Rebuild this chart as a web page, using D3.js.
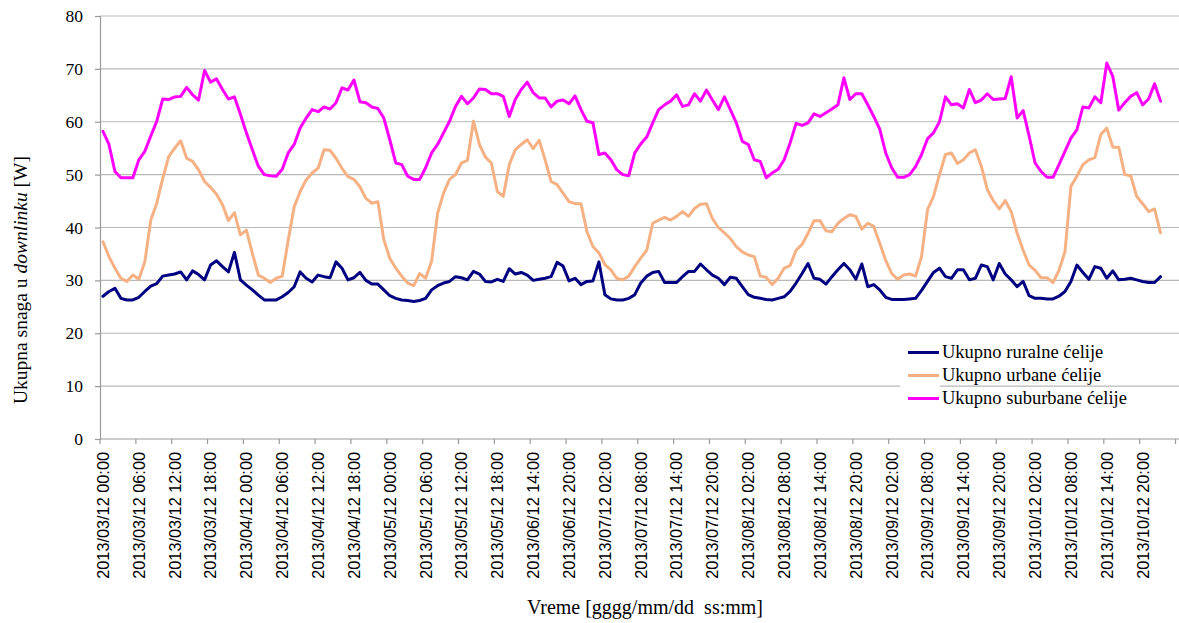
<!DOCTYPE html>
<html>
<head>
<meta charset="utf-8">
<script src="https://cdn.jsdelivr.net/npm/d3@7"></script>
<style>
  html, body { margin: 0; padding: 0; background: #fff; }
  svg { display: block; }
</style>
</head>
<body>
<svg id="chart" width="1179" height="623"></svg>
<script>
// ---------------- DATA ----------------
const seriesNames = ["Ukupno ruralne ćelije", "Ukupno urbane ćelije", "Ukupno suburbane ćelije"];

const rural = [
  27.0, 27.9, 28.5, 26.6, 26.3, 26.3, 26.8, 27.9, 28.9, 29.4, 30.8, 31.0, 31.2, 31.6, 30.1, 31.8, 31.1, 30.1, 32.9, 33.7,
  32.6, 31.6, 35.3, 30.1, 29.1, 28.2, 27.2, 26.3, 26.3, 26.3, 26.9, 27.7, 28.8, 31.6, 30.4, 29.7, 31.0, 30.7, 30.5, 33.5,
  32.3, 30.1, 30.5, 31.5, 30.0, 29.3, 29.3, 28.2, 27.1, 26.6, 26.3, 26.2, 26.0, 26.2, 26.6, 28.2, 29.0, 29.5, 29.8, 30.7,
  30.5, 30.1, 31.7, 31.2, 29.8, 29.7, 30.2, 29.8, 32.2, 31.2, 31.5, 31.0, 30.0, 30.2, 30.4, 30.7, 33.4, 32.7, 29.9, 30.4,
  29.2, 29.8, 29.9, 33.5, 27.3, 26.5, 26.3, 26.3, 26.6, 27.3, 29.5, 30.8, 31.5, 31.7, 29.6, 29.6, 29.6, 30.7, 31.7, 31.7,
  33.1, 32.0, 31.0, 30.4, 29.2, 30.6, 30.4, 28.8, 27.3, 26.8, 26.6, 26.4, 26.3, 26.6, 26.9, 27.9, 29.5, 31.3, 33.2, 30.4,
  30.2, 29.3, 30.7, 32.0, 33.2, 32.0, 30.2, 33.1, 28.8, 29.2, 28.2, 26.8, 26.4, 26.4, 26.4, 26.5, 26.6, 28.1, 29.8, 31.5,
  32.3, 30.7, 30.4, 32.0, 32.0, 30.1, 30.4, 32.9, 32.6, 30.1, 33.2, 31.2, 30.1, 28.8, 29.8, 27.1, 26.6, 26.6, 26.5, 26.5,
  27.0, 27.9, 29.8, 32.9, 31.5, 30.2, 32.6, 32.3, 30.4, 31.8, 30.1, 30.2, 30.4, 30.1, 29.8, 29.6, 29.6, 30.7
];

const urban = [
  37.3, 34.5, 32.3, 30.4, 29.8, 31.0, 30.2, 33.5, 41.4, 44.6, 49.3, 53.4, 55.0, 56.4, 53.1, 52.5, 50.9, 48.7, 47.6, 46.3,
  44.3, 41.3, 42.8, 38.6, 39.5, 35.1, 31.0, 30.4, 29.6, 30.4, 30.8, 37.6, 43.9, 46.8, 49.0, 50.3, 51.2, 54.7, 54.6, 53.1,
  51.2, 49.6, 49.1, 47.7, 45.5, 44.6, 44.9, 37.7, 34.2, 32.3, 30.8, 29.5, 29.0, 31.3, 30.4, 33.6, 42.7, 46.5, 49.1, 50.0,
  52.2, 52.7, 60.1, 55.7, 53.3, 52.2, 46.8, 45.9, 51.9, 54.7, 55.7, 56.6, 54.9, 56.5, 52.8, 48.7, 48.1, 46.5, 44.9, 44.5,
  44.5, 39.2, 36.4, 35.2, 33.0, 32.0, 30.4, 30.1, 30.8, 32.6, 34.2, 35.7, 40.8, 41.4, 41.9, 41.4, 42.1, 43.0, 42.1, 43.6,
  44.4, 44.5, 41.7, 40.0, 39.0, 37.9, 36.4, 35.4, 34.8, 34.5, 30.8, 30.6, 29.2, 30.4, 32.3, 32.8, 35.7, 36.8, 38.9, 41.3,
  41.3, 39.4, 39.2, 40.8, 41.7, 42.4, 42.1, 39.7, 40.8, 40.2, 37.0, 33.8, 31.3, 30.2, 31.0, 31.2, 30.8, 34.5, 43.4, 45.9,
  50.0, 53.8, 54.1, 52.1, 52.8, 54.1, 54.7, 51.6, 47.2, 45.1, 43.5, 45.1, 43.0, 38.9, 35.7, 32.9, 31.9, 30.5, 30.5, 29.6,
  31.9, 35.4, 47.8, 49.7, 51.9, 52.8, 53.2, 57.6, 58.8, 55.2, 55.2, 50.0, 49.8, 45.9, 44.5, 43.0, 43.5, 39.0
];

const suburban = [
  58.2, 55.7, 50.6, 49.4, 49.4, 49.4, 52.8, 54.4, 57.3, 60.1, 64.3, 64.2, 64.7, 64.8, 66.5, 65.1, 64.1, 69.7, 67.5, 68.1,
  66.1, 64.3, 64.7, 61.4, 57.9, 54.7, 51.6, 50.0, 49.8, 49.7, 51.0, 54.1, 55.7, 58.8, 60.7, 62.3, 61.9, 62.8, 62.4, 63.6,
  66.4, 66.0, 67.9, 63.8, 63.6, 62.8, 62.5, 60.7, 56.6, 52.2, 51.9, 49.7, 49.1, 49.1, 51.3, 54.1, 55.7, 57.9, 60.1, 62.9,
  64.8, 63.4, 64.5, 66.2, 66.1, 65.3, 65.3, 64.8, 61.0, 64.2, 66.1, 67.5, 65.5, 64.5, 64.5, 62.8, 63.9, 64.1, 63.4, 64.9,
  62.3, 60.1, 59.8, 53.8, 54.1, 52.8, 50.9, 50.0, 49.8, 54.1, 55.8, 57.1, 59.8, 62.3, 63.2, 63.9, 65.1, 62.9, 63.2, 65.3,
  63.9, 66.0, 64.1, 62.3, 64.7, 62.3, 59.8, 56.3, 55.7, 52.8, 52.5, 49.4, 50.3, 51.0, 52.8, 56.0, 59.7, 59.3, 59.8, 61.5,
  61.0, 61.7, 62.4, 63.2, 68.3, 64.2, 65.3, 65.3, 63.2, 61.0, 58.6, 54.1, 51.3, 49.5, 49.5, 50.0, 51.5, 53.8, 56.8, 57.9,
  60.0, 64.7, 63.2, 63.4, 62.6, 66.1, 63.6, 64.1, 65.3, 64.2, 64.3, 64.4, 68.5, 60.7, 62.1, 57.3, 52.2, 50.6, 49.5, 49.5,
  51.9, 54.4, 56.9, 58.5, 62.8, 62.6, 64.7, 63.6, 71.1, 68.6, 62.2, 63.6, 64.8, 65.5, 63.2, 64.3, 67.2, 63.9
];

// one label for every 6th category
const tickLabels = [
  "2013/03/12 00:00", "2013/03/12 06:00", "2013/03/12 12:00", "2013/03/12 18:00",
  "2013/04/12 00:00", "2013/04/12 06:00", "2013/04/12 12:00", "2013/04/12 18:00",
  "2013/05/12 00:00", "2013/05/12 06:00", "2013/05/12 12:00", "2013/05/12 18:00",
  "2013/06/12 14:00", "2013/06/12 20:00",
  "2013/07/12 02:00", "2013/07/12 08:00", "2013/07/12 14:00", "2013/07/12 20:00",
  "2013/08/12 02:00", "2013/08/12 08:00", "2013/08/12 14:00", "2013/08/12 20:00",
  "2013/09/12 02:00", "2013/09/12 08:00", "2013/09/12 14:00", "2013/09/12 20:00",
  "2013/10/12 02:00", "2013/10/12 08:00", "2013/10/12 14:00", "2013/10/12 20:00"
];
const labelEvery = 6;
const yTicks = [0, 10, 20, 30, 40, 50, 60, 70, 80];

const yTitle = ["Ukupna snaga u ", "downlinku", " [W]"];
const xTitle = "Vreme [gggg/mm/dd  ss:mm]";

const colors = ["#000080", "#F5B183", "#FF00FF"];

// ---------------- LAYOUT ----------------
const W = 1179, H = 623;
const plot = { left: 100, top: 16, bottom: 439, right: 1179 };
const catWidth = 5.975;
const nCat = 181;

const svg = d3.select("#chart");

const x = d3.scaleBand()
  .domain(d3.range(nCat))
  .range([plot.left, plot.left + nCat * catWidth])
  .padding(0);
const cx = i => x(i) + x.bandwidth() / 2;

const y = d3.scaleLinear().domain([0, 80]).range([plot.bottom, plot.top]);

const serif = "'Liberation Serif', 'Times New Roman', serif";
const sans = "'Liberation Sans', Arial, sans-serif";

// gridlines
svg.append("g")
  .selectAll("line")
  .data(yTicks.filter(d => d > 0))
  .join("line")
  .attr("x1", plot.left).attr("x2", plot.right)
  .attr("y1", d => y(d)).attr("y2", d => y(d))
  .attr("stroke", "#b8b8b8").attr("stroke-width", 1.2);

// y axis
const yAxis = d3.axisLeft(y).tickValues(yTicks).tickSize(5).tickPadding(12).tickFormat(d3.format("d"));
const gy = svg.append("g").attr("transform", `translate(${plot.left},0)`).call(yAxis);
gy.select(".domain").attr("stroke", "#9a9a9a").attr("stroke-width", 1.2);
gy.selectAll(".tick line").attr("stroke", "#9a9a9a").attr("stroke-width", 1.2);
gy.selectAll(".tick text")
  .attr("font-family", serif).attr("font-size", "17.5px").attr("fill", "#000");

// x axis line
svg.append("line")
  .attr("x1", plot.left).attr("x2", plot.right)
  .attr("y1", plot.bottom).attr("y2", plot.bottom)
  .attr("stroke", "#9a9a9a").attr("stroke-width", 1.2);

// x tick marks at category boundaries every 6 categories
const tickIdx = d3.range(0, nCat, labelEvery);
svg.append("g")
  .selectAll("line")
  .data(tickIdx)
  .join("line")
  .attr("x1", d => x(d)).attr("x2", d => x(d))
  .attr("y1", plot.bottom).attr("y2", plot.bottom + 5)
  .attr("stroke", "#9a9a9a").attr("stroke-width", 1.2);

// x tick labels
svg.append("g")
  .selectAll("text")
  .data(tickLabels)
  .join("text")
  .attr("transform", (d, k) => `translate(${cx(k * labelEvery)},${plot.bottom + 13}) rotate(-90)`)
  .attr("dy", "0.36em")
  .attr("text-anchor", "end")
  .attr("font-family", sans)
  .attr("font-size", "16.3px")
  .attr("fill", "#000")
  .text(d => d);

// series lines
const seriesData = [rural, urban, suburban];
const line = d3.line().x((d, i) => cx(i)).y(d => y(d));
svg.append("g")
  .selectAll("path")
  .data(seriesData)
  .join("path")
  .attr("d", d => line(d))
  .attr("fill", "none")
  .attr("stroke", (d, i) => colors[i])
  .attr("stroke-width", 3)
  .attr("stroke-linejoin", "round")
  .attr("stroke-linecap", "round");

// legend
const lg = svg.append("g").attr("transform", "translate(908,352.5)");
lg.append("rect").attr("x", -8).attr("y", -10).attr("width", 40).attr("height", 62).attr("fill", "#fff");
const items = lg.selectAll("g.item").data(seriesNames).join("g")
  .attr("class", "item")
  .attr("transform", (d, i) => `translate(0,${i * 23})`);
items.append("line")
  .attr("x1", 0).attr("x2", 31).attr("y1", 0).attr("y2", 0)
  .attr("stroke", (d, i) => colors[i]).attr("stroke-width", 3);
items.append("text")
  .attr("x", 34).attr("y", 0).attr("dy", "0.3em")
  .attr("font-family", serif).attr("font-size", "18.5px").attr("fill", "#000")
  .text(d => d);

// axis titles
const yt = svg.append("text")
  .attr("transform", "translate(27,280) rotate(-90)")
  .attr("text-anchor", "middle")
  .attr("font-family", serif).attr("font-size", "19.5px").attr("fill", "#000");
yt.selectAll("tspan").data(yTitle).join("tspan")
  .attr("font-style", (d, i) => i === 1 ? "italic" : "normal")
  .style("white-space", "pre")
  .text(d => d);

svg.append("text")
  .attr("x", 645).attr("y", 614)
  .attr("text-anchor", "middle")
  .attr("font-family", serif).attr("font-size", "20px").attr("fill", "#000")
  .style("white-space", "pre")
  .text(xTitle);
</script>
</body>
</html>
